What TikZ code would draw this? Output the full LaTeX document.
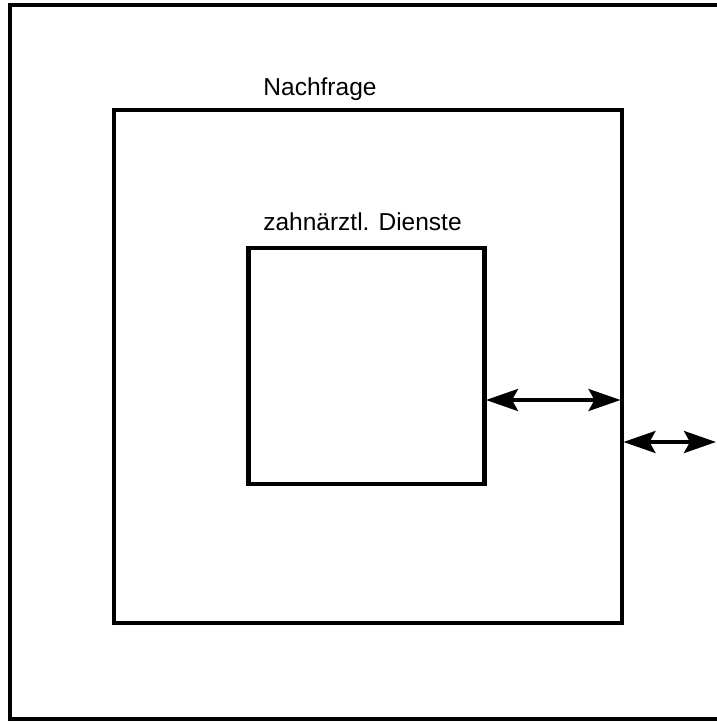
\documentclass[tikz,border=0pt]{standalone}
\usepackage{fontspec}
\setmainfont{Liberation Sans}
\usetikzlibrary{arrows.meta}
\begin{document}
\begin{tikzpicture}[x=1pt,y=-1pt,
  frame/.style={line width=4.5pt},
  boxsq/.style={draw,line width=4.5pt,inner sep=0pt,outer sep=0pt},
  lbl/.style={font=\fontsize{24.5}{28}\selectfont,anchor=base,inner sep=0pt},
  dbl/.style={line width=3.5pt,{Stealth[length=32pt,width=22pt,inset=6pt]}-{Stealth[length=32pt,width=22pt,inset=6pt]}}]
\useasboundingbox (0,0) rectangle (716,724);
\draw[frame] (720,5) -- (10,5) -- (10,719) -- (720,719);
\node[boxsq,minimum width=508pt,minimum height=513pt] (mid) at (368,366.5) {};
\node[boxsq,minimum width=236pt,minimum height=236pt] (inner) at (366.5,366) {};
\node[lbl] (tmid) at (320,95) {Nachfrage};
\node[lbl] (tinner) at (362.5,230) {zahnärztl. Dienste};
\coordinate (y1) at (0,400);
\coordinate (y2) at (0,442);
\coordinate (free) at (716,442);
\draw[dbl] ([xshift=1.5pt]inner.east |- y1) -- ([xshift=-1.5pt]mid.east |- y1);
\draw[dbl] ([xshift=1.5pt]mid.east |- y2) -- (free);
\end{tikzpicture}
\end{document}
